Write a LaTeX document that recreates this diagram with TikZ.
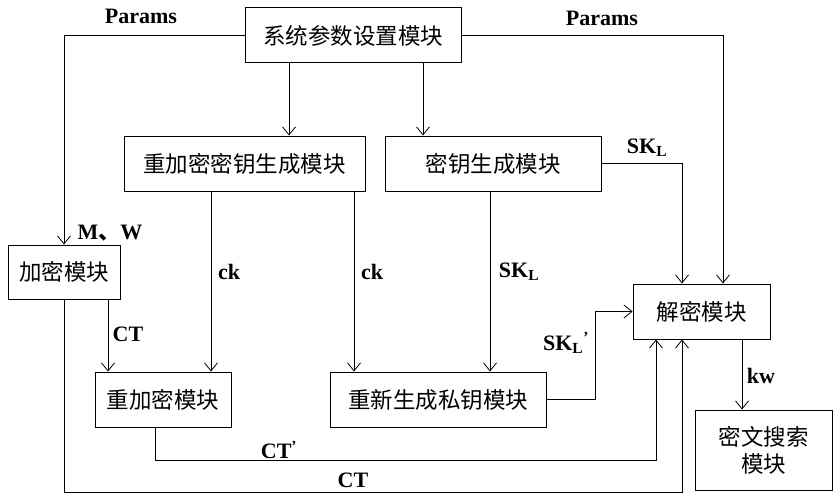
\documentclass[tikz,border=0pt]{standalone}
\usepackage{fontspec}
\setmainfont{Liberation Serif}
\newfontfamily\cjk{Noto Sans CJK SC}
\usetikzlibrary{arrows.meta}
\tikzset{
  mod/.style={draw, line width=1pt, inner sep=0pt, font=\cjk\fontsize{22.5}{27}\selectfont},
  lab/.style={font=\bfseries\fontsize{22}{25}\selectfont, inner sep=0pt},
  arr/.style={line width=0.8pt, -{Straight Barb[length=8pt,width=13pt]}}
}
\begin{document}
\begin{tikzpicture}[x=1pt,y=-1pt]
  \useasboundingbox (0,0) rectangle (840,500);
  % modules
  \node[mod, minimum width=216, minimum height=55] (sys) at (353,35.5) {系统参数设置模块};
  \node[mod, minimum width=241, minimum height=55] (rkg) at (244.5,163.5) {重加密密钥生成模块};
  \node[mod, minimum width=216, minimum height=55] (kg) at (493,163.5) {密钥生成模块};
  \node[mod, minimum width=112, minimum height=54] (enc) at (64,272) {加密模块};
  \node[mod, minimum width=136, minimum height=55] (renc) at (163,399.5) {重加密模块};
  \node[mod, minimum width=216, minimum height=55] (regen) at (438,399.5) {重新生成私钥模块};
  \node[mod, minimum width=137, minimum height=55] (dec) at (701.5,311.5) {解密模块};
  \node[mod, minimum width=137, minimum height=80, align=center] (srch) at (763.5,450) {密文搜索\\模块};
  % connectors
  \draw[arr] (sys.west) -| (enc.north);
  \draw[arr] (sys.east) -| ([xshift=21.5pt]dec.north);
  \draw[arr] ([xshift=-64pt]sys.south) -- ([xshift=44.5pt]rkg.north);
  \draw[arr] ([xshift=70pt]sys.south) -- ([xshift=-70pt]kg.north);
  \draw[arr] ([xshift=44pt]enc.south) -- ([xshift=-55pt]renc.north);
  \draw[arr] ([xshift=-33.5pt]rkg.south) -- ([xshift=48pt]renc.north);
  \draw[arr] ([xshift=109.5pt]rkg.south) -- ([xshift=-84pt]regen.north);
  \draw[arr] ([xshift=-3pt]kg.south) -- ([xshift=52pt]regen.north);
  \draw[arr] (kg.east) -| ([xshift=-19.5pt]dec.north);
  \draw[arr] (regen.east) -- ++(49,0) |- (dec.west);
  \draw[arr] ([xshift=-8pt]renc.south) -- ++(0,33) -| ([xshift=-45.5pt]dec.south);
  \draw[arr] (enc.south) -- ++(0,193) -| ([xshift=-19.5pt]dec.south);
  \draw[arr] ([xshift=40.5pt]dec.south) -- ([xshift=-21.5pt]srch.north);
  % labels
  \node[lab] (p1) at (141,16) {Params};
  \node[lab] (p2) at (602,18) {Params};
  \node[lab] (mw) at (110,233) {M{\cjk 、}W};
  \node[lab] (ck1) at (229,272) {ck};
  \node[lab] (ck2) at (372,272) {ck};
  \node[lab] (sk1) at (519,272) {SK\textsubscript{L}};
  \node[lab] (sk2) at (647,148) {SK\textsubscript{L}};
  \node[lab] (sk3) at (566,343) {SK\textsubscript{L}\textsuperscript{’}};
  \node[lab] (ct1) at (128,334) {CT};
  \node[lab] (ct2) at (279,450) {CT\textsuperscript{’}};
  \node[lab] (ct3) at (353,480) {CT};
  \node[lab] (kw) at (761,376) {kw};
\end{tikzpicture}
\end{document}
